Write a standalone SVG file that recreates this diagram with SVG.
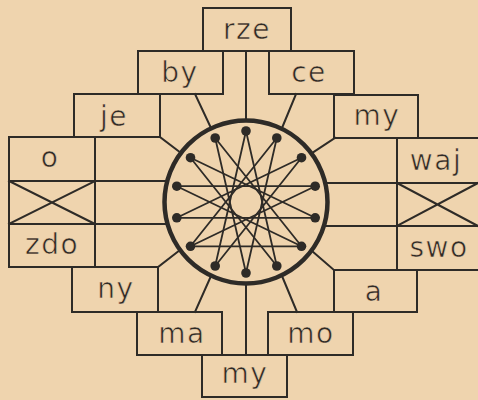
<svg xmlns="http://www.w3.org/2000/svg" width="478" height="400" viewBox="0 0 478 400">
<style>
.ln{fill:none;stroke:#2e2b27;stroke-width:2;stroke-linecap:square}
.bx{fill:none;stroke:#2e2b27;stroke-width:2}
.ch{fill:none;stroke:#2e2b27;stroke-width:1.8}
.dot{fill:#2e2b27}
.t{font-family:"DejaVu Sans",sans-serif;font-size:28px;fill:#2e2b27;stroke:#efd4ae;stroke-width:0.6;text-anchor:middle;letter-spacing:1.5px}
</style>
<rect width="478" height="400" fill="#efd4ae"/>
<g id="rows" class="ln">
<path d="M9 137H160M9 137V267M95 137V267M9 181H167M9 224H167.5M9 267H158"/>
<path d="M9 181L95 224M9 224L95 181"/>
<path d="M335 138H478M397 138V270M325 183H478M324 226H478M334 270H478"/>
<path d="M397 183L478 226M397 226L478 183"/>
</g>
<g id="n-rze"><rect class="bx" x="203" y="8" width="88" height="43"/><text class="t" x="247" y="39">rze</text></g>
<g id="n-by"><rect class="bx" x="138" y="51" width="85" height="43"/><text class="t" x="180" y="82">by</text></g>
<g id="n-ce"><rect class="bx" x="269" y="51" width="85" height="43"/><text class="t" x="309" y="82">ce</text></g>
<g id="n-je"><rect class="bx" x="74" y="94" width="86" height="43"/><text class="t" x="114" y="126">je</text></g>
<g id="n-my1"><rect class="bx" x="334" y="95" width="84" height="43"/><text class="t" x="377" y="125">my</text></g>
<g id="n-o"><text class="t" x="50" y="167">o</text></g>
<g id="n-zdo"><text class="t" x="52" y="254">zdo</text></g>
<g id="n-waj"><text class="t" x="436" y="170">waj</text></g>
<g id="n-swo"><text class="t" x="439" y="257">swo</text></g>
<g id="n-ny"><rect class="bx" x="72" y="267" width="86" height="45"/><text class="t" x="116" y="298">ny</text></g>
<g id="n-a"><rect class="bx" x="334" y="270" width="83" height="42"/><text class="t" x="374" y="301">a</text></g>
<g id="n-ma"><rect class="bx" x="137" y="312" width="85" height="43"/><text class="t" x="182" y="343">ma</text></g>
<g id="n-mo"><rect class="bx" x="268" y="312" width="85" height="43"/><text class="t" x="311" y="343">mo</text></g>
<g id="n-my2"><rect class="bx" x="202" y="355" width="85" height="42"/><text class="t" x="245" y="383">my</text></g>
<g id="connectors" class="ln">
<path d="M246 51V121M195 94L211 128M296 94L282 128M160 137L181 153M335 138L312 153"/>
<path d="M158 267L180 250M334 270L312 251M195 312L211 276M297 312L282 276M246 283V355"/>
</g>
<g id="wheel">
<circle cx="246" cy="202" r="81.5" fill="none" stroke="#2e2b27" stroke-width="4.5"/>
<g class="ch">
<path d="M246 131L276.8 266L190.5 157.7L315.2 217.8L176.8 217.8L301.5 157.7L215.2 266Z"/>
<path d="M276.8 138L246 273L215.2 138L301.5 246.3L176.8 186.2L315.2 186.2L190.5 246.3Z"/>
<path d="M190.5 246.3L301.5 246.3"/>
</g>
<g class="dot">
<circle cx="246" cy="131" r="4.8"/><circle cx="276.8" cy="138" r="4.8"/><circle cx="301.5" cy="157.7" r="4.8"/><circle cx="315.2" cy="186.2" r="4.8"/><circle cx="315.2" cy="217.8" r="4.8"/><circle cx="301.5" cy="246.3" r="4.8"/><circle cx="276.8" cy="266" r="4.8"/><circle cx="246" cy="273" r="4.8"/><circle cx="215.2" cy="266" r="4.8"/><circle cx="190.5" cy="246.3" r="4.8"/><circle cx="176.8" cy="217.8" r="4.8"/><circle cx="176.8" cy="186.2" r="4.8"/><circle cx="190.5" cy="157.7" r="4.8"/><circle cx="215.2" cy="138" r="4.8"/>
</g>
</g>
</svg>
